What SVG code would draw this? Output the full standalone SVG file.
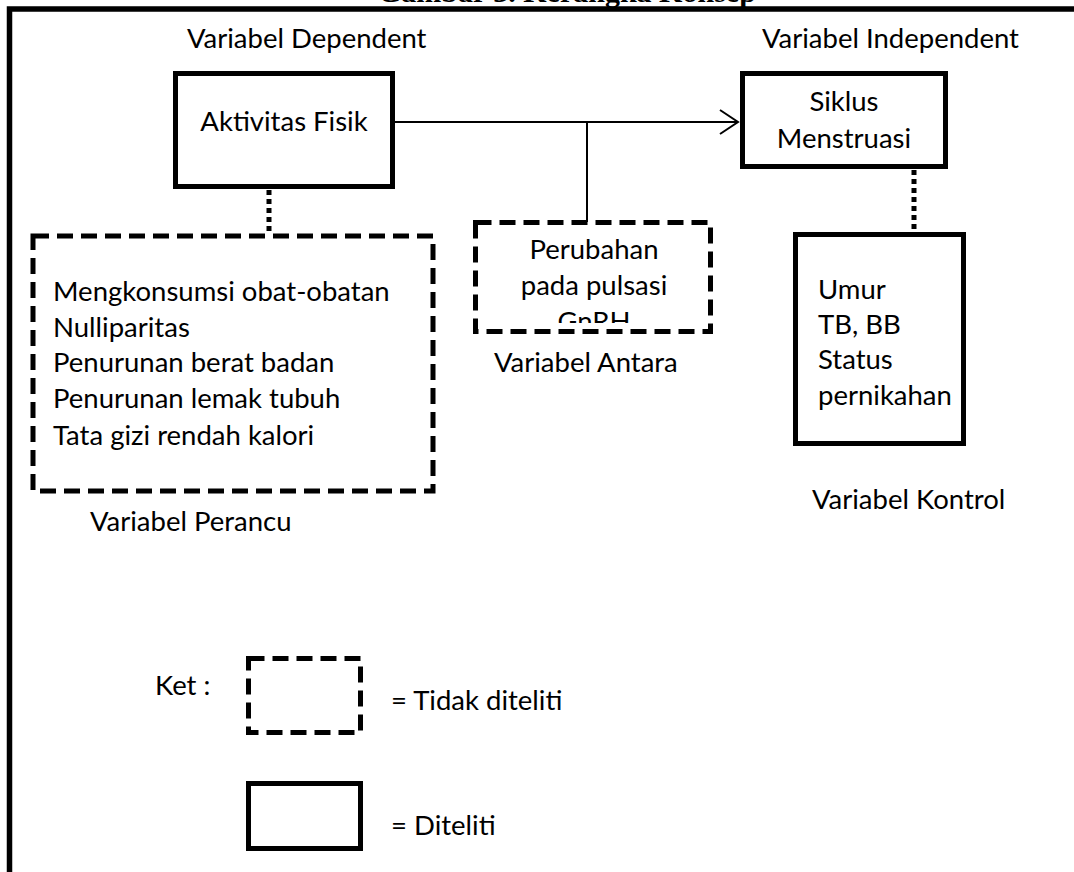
<svg xmlns="http://www.w3.org/2000/svg" width="1074" height="872" viewBox="0 0 1074 872">
<style>
  .t { font-family: Lato, "Liberation Sans", sans-serif; font-size: 27.5px; fill: #000; }
  .c { text-anchor: middle; }
  .solid { fill: #fff; stroke: #000; stroke-width: 5; }
  .dashed { fill: #fff; stroke: #000; stroke-width: 5; stroke-dasharray: 16 8; }
  .dotted { fill: none; stroke: #000; stroke-width: 5; stroke-dasharray: 5 4; }
  .thin { fill: none; stroke: #000; stroke-width: 2; }
</style>
<defs>
  <marker id="arr" markerWidth="12" markerHeight="14" refX="10" refY="7" orient="auto" markerUnits="userSpaceOnUse" overflow="visible">
    <path d="M-8,-5 L10,7 L-8,19" fill="none" stroke="#000" stroke-width="2"/>
  </marker>
  <clipPath id="clipMid"><rect x="478" y="224" width="230" height="99"/></clipPath>
</defs>
<rect width="1074" height="872" fill="#fff"/>
<text x="378" y="1.5" font-family="'Liberation Serif', serif" font-weight="bold" font-size="30">Gambar 3. Kerangka Konsep</text>
<rect id="frame" x="9.5" y="9" width="1100" height="900" fill="none" stroke="#000" stroke-width="5.5"/>

<g id="connectors">
  <line class="thin" x1="395" y1="122" x2="738" y2="122" marker-end="url(#arr)"/>
  <line class="thin" x1="587" y1="122" x2="587" y2="222"/>
  <line class="dotted" x1="269" y1="190" x2="269" y2="234"/>
  <line class="dotted" x1="914" y1="170" x2="914" y2="230"/>
</g>

<g id="label-dependent"><text class="t" x="187" y="48">Variabel Dependent</text></g>
<g id="label-independent"><text class="t" x="762" y="48">Variabel Independent</text></g>

<g id="node-aktivitas">
  <rect class="solid" x="175.5" y="73.5" width="217" height="113"/>
  <text class="t c" x="284" y="131">Aktivitas Fisik</text>
</g>

<g id="node-siklus">
  <rect class="solid" x="742.5" y="73.5" width="203" height="93"/>
  <text class="t c" x="844" y="111">Siklus</text>
  <text class="t c" x="844" y="148">Menstruasi</text>
</g>

<g id="node-perancu">
  <rect class="dashed" x="33" y="236" width="400" height="255"/>
  <text class="t" x="53" y="301">Mengkonsumsi obat-obatan</text>
  <text class="t" x="53" y="337">Nulliparitas</text>
  <text class="t" x="53" y="372">Penurunan berat badan</text>
  <text class="t" x="53" y="408">Penurunan lemak tubuh</text>
  <text class="t" x="53" y="445">Tata gizi rendah kalori</text>
</g>
<g id="label-perancu"><text class="t" x="90" y="531">Variabel Perancu</text></g>

<g id="node-antara">
  <rect class="dashed" x="475.5" y="222.5" width="235" height="109"/>
  <g clip-path="url(#clipMid)">
    <text class="t c" x="594" y="259">Perubahan</text>
    <text class="t c" x="594" y="295">pada pulsasi</text>
    <text class="t c" x="594" y="331">GnRH</text>
  </g>
</g>
<g id="label-antara"><text class="t" x="494" y="372">Variabel Antara</text></g>

<g id="node-kontrol">
  <rect class="solid" x="795.5" y="234.5" width="168" height="209"/>
  <text class="t" x="818" y="299">Umur</text>
  <text class="t" x="818" y="334">TB, BB</text>
  <text class="t" x="818" y="369">Status</text>
  <text class="t" x="818" y="405">pernikahan</text>
</g>
<g id="label-kontrol"><text class="t" x="812" y="509">Variabel Kontrol</text></g>

<g id="legend">
  <text class="t" x="155" y="695">Ket :</text>
  <rect class="dashed" x="248.5" y="658.5" width="112" height="74"/>
  <text class="t" x="391" y="710">= Tidak diteliti</text>
  <rect class="solid" x="248.5" y="783.5" width="112" height="65"/>
  <text class="t" x="391" y="835">= Diteliti</text>
</g>
</svg>
